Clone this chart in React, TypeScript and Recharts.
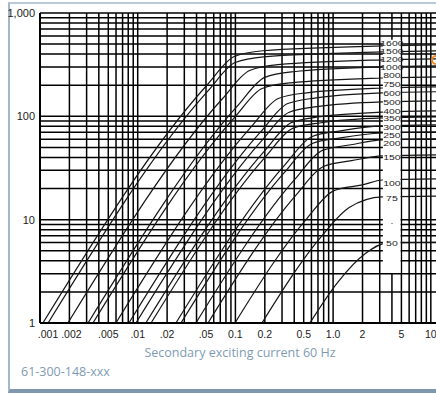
import { LineChart, Line, XAxis, YAxis, CartesianGrid, ReferenceArea, ReferenceDot } from "recharts";

// secondary exciting current (A) and exciting voltage (V), log-log
const currentTicks = [0.001, 0.002, 0.005, 0.01, 0.02, 0.05, 0.1, 0.2, 0.5, 1, 2, 5, 10];
const currentTickLabels = [".001", ".002", ".005", ".01", ".02", ".05", "0.1", "0.2", "0.5", "1.0", "2", "5", "10"];
const voltTicks = [1, 10, 100, 1000];
const voltTickLabels = ["1", "10", "100", "1,000"];

const ratios = ["1600", "1500", "1200", "1000", "800", "750", "600", "500", "400", "350", "300", "250", "200", "150", "100", "75", "50"];
// voltage level at which each ratio label sits in the label column
const labelVolts = [512, 429, 359, 300, 251, 206, 168, 138, 113, 96, 79, 66, 55, 40, 22.6, 16.2, 5.9];

// [current, voltage]
const c1600 = [[0.00107, 1], [0.0513, 201], [0.0975, 379], [0.19, 431], [3.2, 480], [12, 491]];
const c1500 = [[0.00121, 1], [0.0524, 176], [0.0995, 332], [0.194, 377], [3.2, 420], [12, 430]];
const c1200 = [[0.00193, 1], [0.0736, 148], [0.14, 278], [0.273, 316], [3.2, 352], [12, 360]];
const c1000 = [[0.0031, 1], [0.105, 126], [0.2, 238], [0.39, 270], [3.2, 301], [12, 308]];
const c800 = [[0.00348, 1], [0.0991, 98.9], [0.188, 186], [0.367, 211], [3.2, 235], [12, 241]];
const c750 = [[0.00598, 1], [0.145, 79.1], [0.275, 149], [0.536, 169], [3.2, 188], [12, 193]];
const c600 = [[0.00813, 1], [0.181, 70.8], [0.344, 133], [0.671, 151], [3.2, 169], [12, 173]];
const c500 = [[0.00959, 1], [0.185, 57.8], [0.351, 109], [0.684, 124], [3.2, 138], [12, 141]];
const c400 = [[0.0121, 1], [0.199, 46.3], [0.378, 87.3], [0.736, 99.1], [3.2, 110], [12, 113]];
const c350 = [[0.0137, 1], [0.203, 40.6], [0.386, 76.4], [0.753, 86.7], [3.2, 96.6], [12, 98.9]];
const c300 = [[0.0246, 1], [0.321, 33.9], [0.61, 63.8], [1.19, 72.4], [3.2, 80.7], [12, 82.6]];
const c250 = [[0.0277, 1], [0.321, 29.0], [0.611, 54.6], [1.19, 61.9], [3.2, 69.0], [12, 70.6]];
const c200 = [[0.0394, 1], [0.409, 24.8], [0.778, 46.8], [1.52, 53.1], [3.2, 59.2], [12, 60.5]];
const c150 = [[0.0524, 1], [0.419, 17.4], [0.796, 32.7], [1.55, 37.2], [3.2, 41.4], [12, 42.4]];
const c100 = [[0.0989, 1], [0.536, 10.2], [1.02, 19.1], [1.99, 21.7], [3.2, 24.2], [12, 24.8]];
const c75 = [[0.187, 1], [0.767, 6.97], [1.46, 13.1], [3.2, 16.6], [12, 16.9]];
const c50 = [[0.578, 1], [1.12, 2.49], [2.14, 4.7], [3.5, 5.94], [12, 6.05]];

const curves = [c1600, c1500, c1200, c1000, c800, c750, c600, c500, c400, c350, c300, c250, c200, c150, c100, c75, c50];

const strayDotVolt = 9.7;
const markerCurrent = 11.3;
const markerVolt = 351;

// log paper grid
const gridX: number[] = [];
[0.001, 0.01, 0.1, 1].forEach((d) => {
  for (let n = 1; n <= 9; n++) gridX.push(+(n * d).toPrecision(3));
});
gridX.push(10);
const gridY: number[] = [];
[1, 10, 100].forEach((d) => {
  for (let n = 1; n <= 9; n++) gridY.push(n * d);
});
gridY.push(1000);

const series = ratios.map((name, k) => ({
  name,
  data: curves[k].map(([i, v]) => ({ i, v })),
  labelV: labelVolts[k],
}));

const tickFont = "'Liberation Sans', Arial, sans-serif";
const tickShift = [8, 2, 0, 0, 0, 0, 0, 0, 0, 0, 0, 0, 0];

function XTick(props: any) {
  const { x, y, payload } = props;
  const idx = currentTicks.indexOf(payload.value);
  return (
    <text x={x + (tickShift[idx] || 0)} y={y} dy="0.71em" textAnchor="middle" fontSize={10.5} fontFamily={tickFont} fill="#222">
      {currentTickLabels[idx]}
    </text>
  );
}

function YTick(props: any) {
  const { x, y, payload } = props;
  const idx = voltTicks.indexOf(payload.value);
  return (
    <text x={x} y={y} dy="0.355em" textAnchor="end" fontSize={11} fontFamily={tickFont} fill="#222">
      {voltTickLabels[idx]}
    </text>
  );
}

function RatioLabel({ cx, cy, text }: { cx: number; cy: number; text: string }) {
  return (
    <g transform={`translate(${cx},${cy}) scale(1,0.74)`}>
      <text x={0} y={0} dy="0.36em" textAnchor="middle" fontSize={10.5} fontFamily={tickFont} fill="#222">
        {text}
      </text>
    </g>
  );
}

export default function App() {
  const areaProps: any = { zIndex: 450 };
  const labelProps: any = { zIndex: 460 };
  return (
    <div style={{ position: "absolute", left: 0, top: 0, width: 436, height: 394, overflow: "hidden", background: "#fff" }}>
      <div
        style={{
          position: "absolute",
          left: 8,
          top: 2,
          width: 440,
          height: 385,
          borderTop: "2px solid #b8c8d6",
          borderLeft: "2px solid #a3b7c8",
          borderBottom: "4px solid #7f97ac",
        }}
      />
      <div style={{ position: "absolute", left: 0, top: 0 }}>
        <LineChart width={436} height={394} margin={{ top: 13, right: 0, left: 8, bottom: 41 }}>
          <CartesianGrid horizontalValues={gridY} verticalValues={gridX} stroke="#000" strokeWidth={1.5} />
          <XAxis
            dataKey="i"
            type="number"
            scale="log"
            domain={[0.001, 11.3]}
            allowDataOverflow
            ticks={currentTicks}
            interval={0}
            tick={(p: any) => <XTick {...p} />}
            tickLine={false}
            axisLine={{ stroke: "#000", strokeWidth: 2 }}
          />
          <YAxis
            dataKey="v"
            type="number"
            scale="log"
            domain={[1, 1000]}
            allowDataOverflow
            ticks={voltTicks}
            interval={0}
            width={32}
            tickSize={3}
            tickMargin={2}
            tick={(p: any) => <YTick {...p} />}
            tickLine={false}
            axisLine={{ stroke: "#000", strokeWidth: 2 }}
          />
          {series.map((s) => (
            <Line
              key={s.name}
              data={s.data}
              dataKey="v"
              type="monotone"
              stroke="#161616"
              strokeWidth={1.2}
              dot={false}
              isAnimationActive={false}
            />
          ))}
          <ReferenceArea
            {...areaProps}
            x1={3.23}
            x2={4.9}
            y1={3.05}
            y2={550}
            fill="#fff"
            fillOpacity={1}
            stroke="none"
            ifOverflow="visible"
          />
          {series.map((s) => (
            <ReferenceDot
              {...labelProps}
              key={"lbl" + s.name}
              x={4.0}
              y={s.labelV}
              r={0}
              ifOverflow="visible"
              shape={(p: any) => <RatioLabel cx={p.cx} cy={p.cy} text={s.name} />}
            />
          ))}
          <ReferenceDot
            {...labelProps}
            x={4.0}
            y={strayDotVolt}
            r={0}
            ifOverflow="visible"
            shape={(p: any) => <RatioLabel cx={p.cx} cy={p.cy} text="." />}
          />
          <ReferenceDot x={markerCurrent} y={markerVolt} r={4} fill="none" stroke="#f08a24" strokeWidth={2} ifOverflow="visible" />
        </LineChart>
      </div>
      <div
        style={{
          position: "absolute",
          left: 0,
          width: 480,
          top: 344,
          textAlign: "center",
          fontFamily: "'Open Sans', sans-serif",
          fontSize: 12.5,
          color: "#7f9bb3",
        }}
      >
        Secondary exciting current 60 Hz
      </div>
      <div
        style={{
          position: "absolute",
          left: 21,
          top: 363,
          fontFamily: "'Open Sans', sans-serif",
          fontSize: 12.5,
          color: "#7f9bb3",
        }}
      >
        61-300-148-xxx
      </div>
    </div>
  );
}
